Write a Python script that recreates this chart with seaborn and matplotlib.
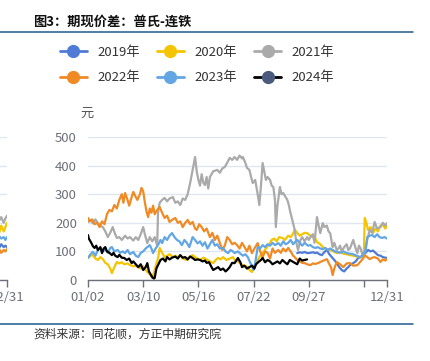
import pandas as pd
import matplotlib
matplotlib.use('Agg')
import matplotlib.pyplot as plt
from matplotlib.lines import Line2D
import seaborn as sns

# day-of-year / spread values (yuan)
days_2019 = [256, 259, 262, 265, 268, 272, 275, 278, 280, 283, 286, 289, 292, 295, 298, 301, 304, 307,
             310, 313, 316, 318, 321, 324, 327, 330, 333, 336, 339, 342, 345, 348, 351, 354, 357, 360, 363, 365]
vals_2019 = [94, 97, 95, 98, 94, 95, 97, 94, 96, 90, 87, 98, 105, 90, 80, 70, 59, 45,
             35, 30, 40, 45, 55, 59, 65, 77, 80, 87, 95, 105, 100, 103, 95, 87, 85, 80, 78, 77]

days_2020 = [2, 5, 8, 11, 14, 17, 20, 23, 26, 29, 31, 34, 37, 40, 43, 46, 50, 53, 57, 60, 63, 66, 69, 72,
             74, 77, 80, 82, 85, 87, 89, 92, 95, 98, 101, 105, 108, 111, 114, 117, 120, 122, 125, 129,
             132, 135, 138, 142, 146, 150, 154, 157, 160, 163, 166, 170, 174, 178, 180, 184, 188, 192,
             196, 198, 201, 203, 206, 208, 211, 214, 218, 221, 223, 225, 228, 231, 234, 238, 241, 245,
             248, 250, 253, 256, 259, 262, 265, 268, 272, 275, 278, 280, 284, 287, 290, 293, 296, 300,
             304, 308, 312, 316, 320, 324, 328, 332, 335, 337, 338, 340, 342, 345, 348, 351, 354, 357,
             360, 363, 365]
vals_2020 = [77, 85, 87, 75, 70, 80, 73, 60, 55, 40, 24, 45, 63, 58, 62, 55, 58, 52, 48, 50, 45, 40, 48, 35,
             28, 20, 7, 25, 58, 75, 112, 95, 80, 85, 90, 80, 85, 78, 87, 75, 72, 70, 80, 87,
             80, 75, 70, 78, 72, 65, 59, 70, 77, 72, 80, 70, 75, 80, 70, 65, 55, 50,
             45, 35, 28, 45, 60, 70, 85, 94, 110, 122, 130, 140, 145, 135, 150, 147, 140, 155,
             150, 157, 175, 165, 155, 160, 165, 164, 155, 150, 145, 133, 125, 115, 110, 108, 105, 100,
             94, 98, 92, 90, 87, 85, 82, 80, 78, 105, 217, 200, 175, 185, 164, 180, 170, 190,
             192, 180, 190]

days_2021 = [2, 5, 8, 11, 14, 17, 20, 23, 26, 29, 32, 35, 37, 40, 43, 47, 50, 53, 57, 60, 63, 66, 69, 71,
             74, 77, 80, 83, 86, 87, 89, 92, 95, 98, 101, 105, 108, 111, 114, 117, 120, 123, 126, 129,
             132, 134, 136, 138, 140, 142, 144, 146, 148, 150, 154, 159, 162, 165, 168, 171, 174, 177,
             180, 183, 186, 189, 190, 193, 195, 198, 200, 202, 205, 208, 210, 212, 214, 216, 218, 220,
             223, 225, 227, 229, 230, 232, 235, 237, 239, 242, 244, 246, 247, 250, 251, 253, 255, 257,
             260, 262, 265, 268, 270, 272, 275, 277, 280, 282, 284, 287, 289, 292, 294, 296, 299, 301,
             304, 306, 308, 310, 313, 316, 318, 320, 322, 324, 327, 329, 331, 333, 335, 336, 338, 341,
             344, 347, 350, 353, 357, 360, 363, 365]
vals_2021 = [203, 210, 198, 212, 199, 190, 185, 170, 150, 165, 185, 160, 147, 150, 140, 155, 145, 150, 138, 150, 140, 160, 185, 160,
             129, 150, 135, 150, 120, 234, 270, 280, 287, 275, 285, 290, 270, 275, 262, 285, 280, 300, 339, 384,
             430, 380, 350, 330, 370, 340, 332, 360, 320, 360, 380, 385, 375, 390, 395, 410, 427, 420,
             430, 420, 435, 425, 430, 410, 392, 385, 360, 339, 350, 300, 262, 330, 409, 380, 350, 360,
             350, 330, 325, 280, 185, 260, 325, 300, 304, 290, 280, 260, 245, 210, 199, 175, 130, 105,
             140, 150, 135, 150, 140, 150, 160, 130, 220, 190, 164, 199, 185, 190, 170, 164, 115, 130,
             105, 110, 120, 100, 115, 125, 105, 110, 125, 140, 110, 94, 120, 110, 90, 80, 100, 140,
             175, 165, 203, 180, 185, 200, 190, 199]

days_2022 = [2, 4, 7, 10, 13, 16, 19, 22, 25, 28, 31, 34, 37, 40, 43, 45, 47, 50, 52, 55, 57, 60, 62, 65,
             67, 69, 71, 73, 75, 77, 79, 81, 83, 86, 89, 92, 95, 98, 101, 104, 108, 111, 114, 117, 120,
             123, 126, 129, 132, 134, 137, 140, 143, 146, 150, 153, 156, 159, 162, 165, 168, 171, 174,
             177, 180, 183, 186, 189, 192, 195, 198, 201, 204, 208, 211, 214, 217, 220, 223, 226, 229,
             233, 236, 239, 242, 245, 248, 251, 253, 256, 259, 262, 265, 268, 272, 275, 278, 282, 284,
             288, 292, 295, 297, 299, 301, 304, 308, 312, 316, 320, 324, 329, 333, 336, 338, 341, 344,
             347, 350, 354, 357, 360, 363, 365]
vals_2022 = [217, 205, 212, 195, 200, 185, 205, 195, 230, 245, 240, 262, 250, 280, 300, 270, 304, 280, 260, 290, 308, 290, 280, 300,
             322, 310, 272, 240, 220, 250, 235, 260, 230, 245, 255, 235, 217, 225, 203, 210, 217, 200, 205, 185, 200,
             210, 195, 203, 180, 175, 195, 185, 170, 180, 150, 165, 140, 155, 130, 105, 120, 150, 140,
             125, 130, 122, 110, 130, 115, 100, 120, 94, 110, 129, 100, 80, 100, 95, 75, 110, 95,
             105, 95, 110, 100, 112, 100, 85, 80, 70, 65, 60, 59, 55, 52, 58, 56, 60, 63,
             68, 73, 55, 45, 17, 40, 63, 55, 45, 58, 59, 50, 52, 65, 75, 87, 80, 73,
             78, 80, 75, 63, 72, 68, 73]

days_2023 = [2, 5, 8, 11, 14, 17, 20, 23, 26, 29, 31, 34, 38, 41, 44, 47, 50, 53, 57, 60, 63, 66, 69, 72,
             74, 77, 79, 81, 84, 87, 90, 92, 95, 98, 101, 104, 107, 110, 113, 116, 119, 122, 125, 129,
             132, 135, 138, 141, 144, 147, 150, 153, 156, 159, 162, 166, 169, 172, 175, 178, 180, 184,
             187, 190, 193, 196, 199, 201, 203, 205, 208, 211, 214, 217, 220, 223, 226, 229, 233, 236,
             239, 242, 245, 248, 251, 254, 256, 259, 262, 265, 269, 272, 275, 278, 281, 284, 287, 290,
             293, 296, 299, 302, 305, 308, 312, 316, 320, 324, 328, 332, 335, 337, 339, 341, 344, 347,
             350, 353, 356, 359, 362, 365]
vals_2023 = [77, 90, 98, 85, 105, 112, 100, 108, 95, 112, 115, 100, 105, 95, 100, 94, 105, 90, 98, 85, 80, 95, 100, 110,
             115, 122, 110, 94, 110, 122, 140, 129, 150, 140, 155, 164, 150, 140, 135, 122, 140, 130, 115, 150,
             140, 128, 135, 120, 132, 110, 125, 140, 120, 125, 110, 112, 100, 94, 105, 100, 94, 100,
             92, 85, 90, 80, 60, 50, 35, 60, 115, 110, 122, 115, 125, 120, 130, 122, 129, 120,
             135, 125, 130, 140, 125, 135, 140, 130, 120, 130, 120, 122, 115, 112, 115, 110, 108, 112,
             105, 110, 105, 100, 98, 95, 100, 94, 92, 90, 85, 80, 85, 94, 100, 150, 155, 157,
             150, 160, 150, 147, 150, 145]

days_2024 = [2, 3, 4, 6, 8, 10, 12, 14, 17, 19, 21, 23, 25, 28, 31, 33, 35, 38, 40, 43, 46, 49, 52, 55,
             57, 60, 63, 66, 69, 72, 74, 76, 78, 80, 82, 83, 85, 87, 90, 93, 96, 98, 101, 104, 108,
             111, 114, 117, 120, 123, 126, 129, 132, 135, 138, 141, 144, 146, 149, 152, 154, 157, 160,
             163, 166, 169, 171, 174, 177, 180, 184, 187, 189, 192, 195, 198, 201, 204, 206, 209, 212,
             214, 217, 220, 223, 226, 229, 232, 235, 238, 241, 244, 247, 250, 253, 256, 259, 262, 265, 268]
vals_2024 = [157, 145, 140, 130, 118, 112, 120, 105, 115, 94, 110, 115, 100, 95, 87, 95, 85, 80, 88, 78, 77, 70, 75, 59,
             65, 55, 45, 55, 35, 45, 59, 30, 20, 10, 5, 7, 40, 52, 70, 75, 65, 80, 72, 78, 82,
             75, 87, 78, 80, 72, 82, 77, 70, 72, 70, 65, 68, 60, 62, 45, 35, 40, 45,
             35, 40, 30, 35, 45, 60, 59, 77, 62, 45, 50, 40, 45, 50, 40, 55, 63, 70,
             77, 62, 70, 65, 55, 60, 65, 58, 70, 62, 55, 70, 65, 60, 55, 75, 68, 70, 72]

# tail of the neighbouring chart that is cut off on the left
prev_days = [352, 355, 358, 361, 363, 365]
prev_2021 = [190, 205, 220, 200, 215, 225]
prev_2020 = [180, 160, 190, 170, 185, 200]
prev_2023 = [140, 155, 145, 150, 140, 150]
prev_2019 = [120, 110, 125, 115, 120, 115]
prev_2022 = [100, 110, 95, 105, 100, 108]

years = ['2019年', '2020年', '2021年', '2022年', '2023年', '2024年']
line_colors = ['#4F7BD6', '#F5C400', '#AAAAAA', '#F08A24', '#62A6E3', '#000000']
marker_colors = ['#4F7BD6', '#F5C400', '#AAAAAA', '#F08A24', '#62A6E3', '#4A5B7D']
tick_days = [2, 69, 136, 203, 270, 337, 365]
tick_labels = ['01/02', '03/10', '05/16', '07/22', '09/27', '', '12/31']

sns.set_theme(style='white')
plt.rcParams['font.family'] = ['Noto Sans CJK SC', 'DejaVu Sans']

series = [(days_2019, vals_2019), (days_2020, vals_2020), (days_2021, vals_2021),
          (days_2022, vals_2022), (days_2023, vals_2023), (days_2024, vals_2024)]
df = pd.concat([pd.DataFrame({'day': d, 'value': v, 'year': y}) for (d, v), y in zip(series, years)],
               ignore_index=True)

prev = pd.concat([pd.DataFrame({'day': prev_days, 'value': v, 'year': y})
                  for v, y in zip([prev_2019, prev_2020, prev_2021, prev_2022, prev_2023],
                                  years[:5])], ignore_index=True)

fig = plt.figure(figsize=(4.3, 3.61), dpi=100)
W, H = 430, 361
axes_box = [88 / W, 1 - 280 / H, 299 / W, 143 / H]


def style_axes(ax):
    ax.set_xlim(2, 365)
    ax.set_ylim(0, 500)
    ax.set_yticks(range(0, 501, 100))
    ax.yaxis.grid(True, color='#E0E6F1', lw=1)
    ax.xaxis.grid(False)
    for s in ['top', 'right', 'left']:
        ax.spines[s].set_visible(False)
    ax.spines['bottom'].set_color('#6E7079')
    ax.spines['bottom'].set_linewidth(1)
    ax.tick_params(axis='x', length=5, width=1, color='#6E7079', labelcolor='#6E7079',
                   labelsize=9.5, pad=3, bottom=True)
    ax.tick_params(axis='y', length=0, labelcolor='#6E7079', labelsize=9.5, pad=8)
    ax.set_xlabel('')
    ax.set_ylabel('')


# cut-off neighbour on the left edge
ax0 = fig.add_axes([(7 - 299) / W, axes_box[1], axes_box[2], axes_box[3]])
sns.lineplot(data=prev, x='day', y='value', hue='year', palette=line_colors[:5],
             estimator=None, linewidth=1.6, legend=False, ax=ax0)
style_axes(ax0)
ax0.set_xticks([365])
ax0.set_xticklabels(['12/31'])
ax0.set_yticklabels([])

ax = fig.add_axes(axes_box)
sns.lineplot(data=df, x='day', y='value', hue='year', palette=line_colors,
             estimator=None, linewidth=1.6, legend=False, ax=ax)
style_axes(ax)
ax.set_xticks(tick_days)
ax.set_xticklabels(tick_labels)

fig.text(87 / W, 1 - 113 / H, '元', ha='center', va='center', fontsize=9.5, color='#555555')

fig.text(33 / W, 1 - 22 / H, '图3：期现价差：普氏-连铁', ha='left', va='center',
         fontsize=9.5, fontweight='bold', color='#111111')
fig.add_artist(Line2D([0, 413 / W], [1 - 32 / H] * 2, color='#1F5A8C', lw=1.1))
fig.add_artist(Line2D([0, 413 / W], [1 - 324 / H] * 2, color='#1F5A8C', lw=1.1))
fig.text(33 / W, 1 - 334 / H, '资料来源：同花顺，方正中期研究院', ha='left', va='center',
         fontsize=8.5, color='#333333')

handles = [Line2D([], [], color=lc, lw=2, marker='o', markersize=8.5,
                  markerfacecolor=mc, markeredgecolor=mc) for lc, mc in zip(line_colors, marker_colors)]
order = [0, 3, 1, 4, 2, 5]
fig.legend([handles[i] for i in order], [years[i] for i in order], ncol=3, frameon=False,
           loc='center', bbox_to_anchor=(197 / W, 1 - 65 / H), fontsize=9.5,
           handlelength=2.05, handletextpad=0.8, columnspacing=1.3, labelspacing=0.95,
           labelcolor='#333333')

fig.savefig('out.png', dpi=100)
